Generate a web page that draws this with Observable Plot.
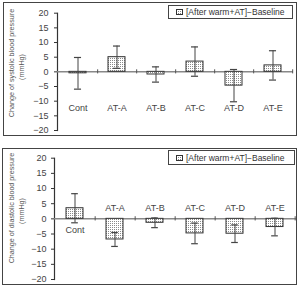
<!DOCTYPE html>
<html><head><meta charset="utf-8">
<script src="https://cdn.jsdelivr.net/npm/d3@7"></script>
<script src="https://cdn.jsdelivr.net/npm/@observablehq/plot@0.6"></script>
<style>
body{margin:0;background:#fff;width:300px;height:286px;position:relative;overflow:hidden;font-family:"Liberation Sans",Arial,sans-serif;}
.panel{position:absolute;border:1.5px solid #444;box-sizing:border-box;}
.chart{position:absolute;left:0;}
.legend{position:absolute;border:1px solid #444;box-sizing:border-box;font-size:8.5px;color:#333;white-space:nowrap;display:flex;align-items:center;}
.legend svg{margin:0 3px 0 7px;}
.ytitle{position:absolute;transform:translate(-50%,-50%) rotate(-90deg);white-space:nowrap;color:#555;font-family:"Liberation Sans",Arial,sans-serif;font-size:7.2px;}
</style>
</head><body>
<svg width="0" height="0" style="position:absolute">
  <defs>
    <pattern id="dots" width="2" height="2" patternUnits="userSpaceOnUse">
      <rect width="2" height="2" fill="#fff"/>
      <rect width="1" height="1" fill="#8a8a8a"/>
    </pattern>
  </defs>
</svg>
<div class="panel" style="left:3px;top:2px;width:294px;height:134px"></div>
<div class="panel" style="left:2px;top:148px;width:295px;height:137px"></div>
<div id="top" class="chart" style="top:0px"></div>
<div id="bottom" class="chart" style="top:143px"></div>
<script>
const categories = ["Cont", "AT-A", "AT-B", "AT-C", "AT-D", "AT-E"];
const systolicMean = [-0.5, 5.0, -0.9, 3.5, -4.7, 2.2];
const systolicSD = [5.4, 3.8, 2.6, 5.0, 5.5, 5.0];
const diastolicMean = [3.5, -6.8, -1.3, -4.8, -4.9, -2.7];
const diastolicSD = [4.8, 2.3, 1.6, 3.4, 2.9, 2.9];
const yTicks = [20, 15, 10, 5, 0, -5, -10, -15, -20];
const legendText = "[After warm+AT]\u2212Baseline";
const titleSys = "Change of systolic blood pressure";
const titleDia = "Change of diastolic blood pressure";
const unitText = "(mmHg)";

function panel({means, sds, marginLeft, marginRight, marginTop, marginBottom, labelY, tickPadding}) {
  const W = 300, H = 143;
  const data = categories.map((c, i) => ({cat: c, mean: means[i], lo: means[i] - sds[i], hi: means[i] + sds[i]}));
  const pad = 0.57;
  const step = (W - marginLeft - marginRight) / categories.length;
  const bw = step * (1 - pad);
  const capInset = (bw - 7) / 2;
  return Plot.plot({
    width: W, height: H, marginLeft, marginRight, marginTop, marginBottom,
    style: {fontFamily: "'Liberation Sans', Arial, sans-serif", fontSize: "9px", color: "#333", background: "transparent", overflow: "visible"},
    x: {domain: categories, paddingInner: pad, paddingOuter: pad / 2, axis: null},
    y: {domain: [-20, 20], ticks: yTicks},
    marks: [
      Plot.axisY({ticks: yTicks, tickSize: 3, tickPadding, label: null, stroke: "#333", fill: "#444"}),
      Plot.frame({anchor: "left", stroke: "#333", strokeWidth: 1.2}),
      Plot.ruleY([0], {stroke: "#888", strokeWidth: 1.5}),
      Plot.ruleX(categories, {x: d => d, y1: -0.7, y2: 0.7, dx: step / 2, stroke: "#555"}),
      Plot.barY(data, {x: "cat", y: "mean", fill: "url(#dots)", stroke: "#333", strokeWidth: 1}),
      Plot.ruleX(data, {x: "cat", y1: "lo", y2: "hi", stroke: "#444", strokeWidth: 1}),
      Plot.tickY(data, {x: "cat", y: "hi", insetLeft: capInset, insetRight: capInset, stroke: "#444", strokeWidth: 1.2}),
      Plot.tickY(data, {x: "cat", y: "lo", insetLeft: capInset, insetRight: capInset, stroke: "#444", strokeWidth: 1.2}),
      Plot.text(data, {x: "cat", y: labelY, text: "cat", fill: "#444", fontSize: 9})
    ]
  });
}

document.getElementById("top").append(panel({
  means: systolicMean, sds: systolicSD,
  marginLeft: 57, marginRight: 7, marginTop: 12.7, marginBottom: 13,
  labelY: () => -12.4, tickPadding: 6
}));
document.getElementById("bottom").append(panel({
  means: diastolicMean, sds: diastolicSD,
  marginLeft: 54, marginRight: 4, marginTop: 14.7, marginBottom: 7,
  labelY: d => d.mean > 0 ? -3.6 : 3.7, tickPadding: 5
}));

function addLegend(left, top, width, height) {
  const el = document.createElement("div");
  el.className = "legend";
  Object.assign(el.style, {left: left + "px", top: top + "px", width: width + "px", height: height + "px"});
  el.innerHTML = '<svg width="7" height="6"><rect x="0.5" y="0.5" width="6" height="5" fill="url(#dots)" stroke="#333"/></svg>';
  const span = document.createElement("span");
  span.textContent = legendText;
  el.append(span);
  document.body.append(el);
}
addLegend(168, 5, 125, 14);
addLegend(168, 150, 127, 15);

function addTitle(text, cx, cy) {
  const el = document.createElement("div");
  el.className = "ytitle";
  el.textContent = text;
  Object.assign(el.style, {left: cx + "px", top: cy + "px"});
  document.body.append(el);
}
addTitle(titleSys, 11, 63);
addTitle(unitText, 21, 67);
addTitle(titleDia, 11, 208);
addTitle(unitText, 21, 211);
</script>
</body></html>
